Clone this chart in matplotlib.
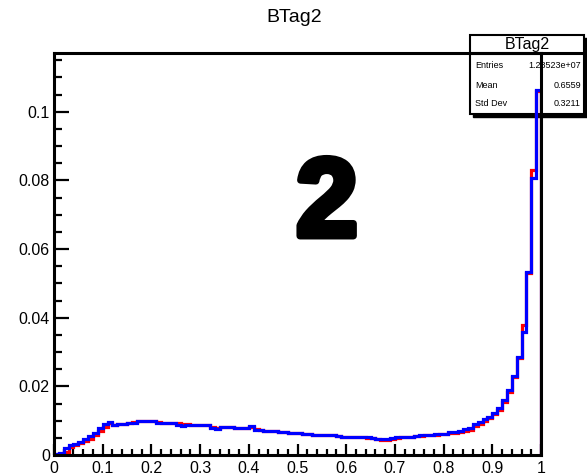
import numpy as np
import matplotlib
matplotlib.use("Agg")
import matplotlib.pyplot as plt
from matplotlib.ticker import MultipleLocator, FuncFormatter
from matplotlib.patches import Rectangle
from matplotlib.lines import Line2D
import matplotlib.patheffects as pe

plt.rcParams['font.family'] = ['Liberation Sans', 'DejaVu Sans']

title = "BTag2"
big_label = "2"
stat_names = ["Entries", "Mean", "Std Dev"]
stat_values = ["1.28523e+07", "0.6559", "0.3211"]

edges = np.linspace(0.0, 1.0, 101)
blue = [0.0003, 0.0005, 0.0021, 0.0030, 0.0033, 0.0039, 0.0046, 0.0055, 0.0065, 0.0078,
        0.0090, 0.0096, 0.0087, 0.0089, 0.0090, 0.0093, 0.0094, 0.0099, 0.0100, 0.0099,
        0.0098, 0.0094, 0.0093, 0.0093, 0.0092, 0.0088, 0.0084, 0.0087, 0.0087, 0.0087,
        0.0087, 0.0087, 0.0080, 0.0075, 0.0082, 0.0082, 0.0081, 0.0080, 0.0080, 0.0080,
        0.0085, 0.0074, 0.0073, 0.0070, 0.0070, 0.0069, 0.0066, 0.0066, 0.0065, 0.0065,
        0.0064, 0.0060, 0.0060, 0.0059, 0.0059, 0.0059, 0.0058, 0.0058, 0.0054, 0.0053,
        0.0053, 0.0053, 0.0052, 0.0052, 0.0051, 0.0050, 0.0047, 0.0046, 0.0046, 0.0050,
        0.0052, 0.0052, 0.0052, 0.0053, 0.0056, 0.0058, 0.0058, 0.0059, 0.0060, 0.0061,
        0.0062, 0.0066, 0.0068, 0.0070, 0.0075, 0.0078, 0.0090, 0.0095, 0.0105, 0.0112,
        0.0122, 0.0137, 0.0160, 0.0189, 0.0230, 0.0285, 0.0358, 0.0533, 0.0806, 0.1063]
red = [0.0002, 0.0004, 0.0010, 0.0022, 0.0030, 0.0034, 0.0040, 0.0048, 0.0058, 0.0070,
       0.0082, 0.0092, 0.0087, 0.0089, 0.0090, 0.0093, 0.0095, 0.0099, 0.0100, 0.0100,
       0.0098, 0.0095, 0.0094, 0.0094, 0.0094, 0.0092, 0.0090, 0.0089, 0.0088, 0.0087,
       0.0087, 0.0086, 0.0082, 0.0079, 0.0082, 0.0082, 0.0081, 0.0080, 0.0080, 0.0080,
       0.0083, 0.0076, 0.0073, 0.0071, 0.0070, 0.0069, 0.0067, 0.0066, 0.0065, 0.0065,
       0.0064, 0.0061, 0.0060, 0.0059, 0.0059, 0.0058, 0.0058, 0.0057, 0.0054, 0.0053,
       0.0053, 0.0052, 0.0052, 0.0051, 0.0050, 0.0049, 0.0047, 0.0045, 0.0045, 0.0048,
       0.0050, 0.0051, 0.0051, 0.0052, 0.0054, 0.0056, 0.0057, 0.0058, 0.0059, 0.0060,
       0.0061, 0.0063, 0.0065, 0.0067, 0.0071, 0.0074, 0.0084, 0.0090, 0.0099, 0.0107,
       0.0118, 0.0132, 0.0155, 0.0184, 0.0226, 0.0282, 0.0380, 0.0530, 0.0830, 0.1060]

W, H = 587, 476
fig = plt.figure(figsize=(5.87, 4.76), dpi=100)
ax = fig.add_axes([54 / W, 21 / H, 487 / W, 402 / H])
ax.set_xlim(0, 1)
ax.set_ylim(0, 0.1171)

ax.stairs(red, edges, color=(1, 0, 0), lw=2.3, zorder=3)
ax.stairs(blue, edges, color=(0, 0, 1), lw=2.3, zorder=4)

for s in ax.spines.values():
    s.set_linewidth(2.2)
    s.set_zorder(5)

ax.xaxis.set_major_locator(MultipleLocator(0.1))
ax.xaxis.set_minor_locator(MultipleLocator(0.02))
ax.yaxis.set_major_locator(MultipleLocator(0.02))
ax.yaxis.set_minor_locator(MultipleLocator(0.005))
ax.tick_params(axis='both', which='both', direction='in', top=False, right=False,
               width=1.6, labelsize=11.5)
ax.tick_params(axis='x', which='major', length=8, pad=4)
ax.tick_params(axis='x', which='minor', length=4.5)
ax.tick_params(axis='y', which='major', length=11, pad=3)
ax.tick_params(axis='y', which='minor', length=6)
ax.xaxis.set_major_formatter(FuncFormatter(lambda v, p: f"{v:g}"))
ax.yaxis.set_major_formatter(FuncFormatter(lambda v, p: f"{v:g}"))

fig.text(294 / W, 1 - 18 / H, title, ha='center', va='center', fontsize=14)

fig.text(327 / W, 1 - 207 / H, big_label, ha='center', va='center',
         fontsize=80, fontweight='bold', zorder=2,
         path_effects=[pe.withStroke(linewidth=5, foreground='black')])

# stats box (figure pixel coords -> fraction)
bx0, bx1, by0, by1 = 470, 584, 35, 114
shadow = Rectangle(((bx0 + 3) / W, 1 - (by1 + 3) / H), (bx1 - bx0) / W, (by1 - by0) / H,
                   transform=fig.transFigure, facecolor='black', edgecolor='black', zorder=1)
box = Rectangle((bx0 / W, 1 - by1 / H), (bx1 - bx0) / W, (by1 - by0) / H,
                transform=fig.transFigure, facecolor='white', edgecolor='black', lw=1.5, zorder=1.1)
fig.add_artist(shadow)
fig.add_artist(box)
fig.add_artist(Line2D([bx0 / W, bx1 / W], [1 - 53 / H, 1 - 53 / H], transform=fig.transFigure,
                      color='black', lw=2.2, zorder=1.2))
fig.text((bx0 + bx1) / 2 / W, 1 - 45 / H, title, ha='center', va='center', fontsize=11.5, zorder=1.3)
rows_y = [65, 85, 104]
for name, val, yy in zip(stat_names, stat_values, rows_y):
    fig.text((bx0 + 5) / W, 1 - yy / H, name, ha='left', va='center', fontsize=6.5, zorder=1.3)
    fig.text((bx1 - 3) / W, 1 - yy / H, val, ha='right', va='center', fontsize=6.5, zorder=1.3)

ax.set_facecolor('none')
ax.set_zorder(2)

fig.savefig("out.png", dpi=100)
